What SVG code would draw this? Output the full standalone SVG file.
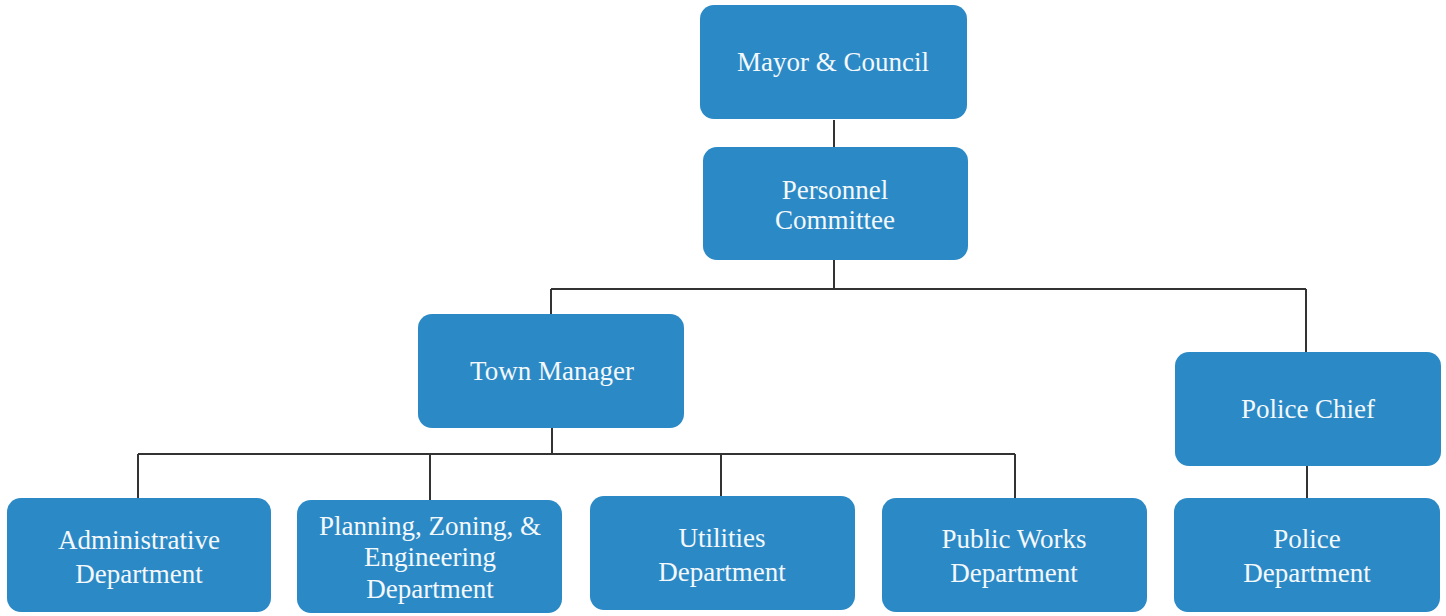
<svg xmlns="http://www.w3.org/2000/svg" width="1446" height="616" viewBox="0 0 1446 616">
<style>
.box{fill:#2b8ac6;}
.t{font-family:"Liberation Serif","Times New Roman",serif;font-size:27px;fill:#f4f8fb;text-anchor:middle;}
.c{stroke:#333;stroke-width:2;fill:none;}
</style>
<rect width="1446" height="616" fill="#ffffff"/>
<g id="connectors">
<path class="c" d="M834 120V147"/>
<path class="c" d="M834 260V289M551 289H1306M551 289V314M1306 289V352"/>
<path class="c" d="M552 428V454M138 454H1015M138 454V498M430 454V500M721 454V496M1015 454V498"/>
<path class="c" d="M1307 466V498"/>
</g>
<g id="mayor"><rect class="box" x="700" y="5" width="267" height="114" rx="14"/><text class="t" x="833" y="71">Mayor &amp; Council</text></g>
<g id="personnel"><rect class="box" x="703" y="147" width="265" height="113" rx="14"/><text class="t" x="835" y="199">Personnel</text><text class="t" x="835" y="229">Committee</text></g>
<g id="town-manager"><rect class="box" x="418" y="314" width="266" height="114" rx="14"/><text class="t" x="552" y="380">Town Manager</text></g>
<g id="police-chief"><rect class="box" x="1175" y="352" width="266" height="114" rx="14"/><text class="t" x="1308" y="418">Police Chief</text></g>
<g id="admin"><rect class="box" x="7" y="498" width="264" height="114" rx="14"/><text class="t" x="139" y="549">Administrative</text><text class="t" x="139" y="583">Department</text></g>
<g id="planning"><rect class="box" x="297" y="500" width="265" height="113" rx="14"/><text class="t" x="430" y="535">Planning, Zoning, &amp;</text><text class="t" x="430" y="566">Engineering</text><text class="t" x="430" y="598">Department</text></g>
<g id="utilities"><rect class="box" x="590" y="496" width="265" height="114" rx="14"/><text class="t" x="722" y="547">Utilities</text><text class="t" x="722" y="581">Department</text></g>
<g id="public-works"><rect class="box" x="882" y="498" width="265" height="114" rx="14"/><text class="t" x="1014" y="548">Public Works</text><text class="t" x="1014" y="582">Department</text></g>
<g id="police-dept"><rect class="box" x="1174" y="498" width="266" height="114" rx="14"/><text class="t" x="1307" y="548">Police</text><text class="t" x="1307" y="582">Department</text></g>
</svg>
